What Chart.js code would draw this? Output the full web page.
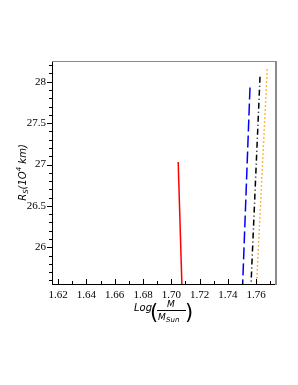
<!DOCTYPE html>
<html>
<head>
<meta charset="utf-8">
<script src="https://cdn.jsdelivr.net/npm/chart.js@4/dist/chart.umd.min.js"></script>
<style>
  html, body { margin: 0; padding: 0; background: #fff; }
  #wrap { width: 298px; height: 385px; }
</style>
</head>
<body>
<div id="wrap"><canvas id="myChart" width="298" height="385"></canvas></div>
<script>
// values: [log M, R_S] pairs, top end and below-axis end
const redX = [1.7049, 1.7076];
const redY = [27.03, 25.50];
const blueX = [1.7557, 1.7504];
const blueY = [27.93, 25.50];
const blackX = [1.7628, 1.7563];
const blackY = [28.06, 25.50];
const orangeX = [1.7679, 1.7602];
const orangeY = [28.15, 25.50];

const xMajor = [1.62, 1.64, 1.66, 1.68, 1.70, 1.72, 1.74, 1.76];
const yMajor = [26, 26.5, 27, 27.5, 28];

function pts(xs, ys) {
  return xs.map((x, i) => ({ x: x, y: ys[i] }));
}

// draws ticks, frame and the two axis titles
const decor = {
  id: 'decor',
  afterDraw(chart) {
    const c = chart.ctx, a = chart.chartArea;
    const sx = chart.scales.x, sy = chart.scales.y;
    c.save();
    c.strokeStyle = '#000';
    c.lineWidth = 1;
    c.beginPath();
    for (let v = 25.6; v <= 28.21; v += 0.1) {
      const y = Math.round(sy.getPixelForValue(v)) + 0.5;
      const major = Math.abs(v * 2 - Math.round(v * 2)) < 0.01;
      c.moveTo(a.left, y);
      c.lineTo(a.left - (major ? 5 : 3), y);
    }
    for (let v = 1.62; v <= 1.771; v += 0.01) {
      const x = Math.round(sx.getPixelForValue(v)) + 0.5;
      const major = Math.round(v * 100) % 2 === 0;
      c.moveTo(x, a.bottom);
      c.lineTo(x, a.bottom - (major ? 5 : 3));
    }
    c.stroke();

    // grey frame at top and right
    c.strokeStyle = '#8a8a8a';
    c.lineWidth = 1;
    c.beginPath();
    c.moveTo(a.left, a.top + 0.5);
    c.lineTo(a.right, a.top + 0.5);
    c.stroke();
    c.lineWidth = 2;
    c.beginPath();
    c.moveTo(a.right + 1, a.top);
    c.lineTo(a.right + 1, a.bottom + 1);
    c.stroke();

    // y title: R_S(10^4 km)
    c.fillStyle = '#000';
    c.translate(23, (a.top + a.bottom) / 2);
    c.rotate(-Math.PI / 2);
    const big = 'italic 10px "DejaVu Sans"';
    const small = 'italic 7px "DejaVu Sans"';
    const runs = [
      ['R', big, 0], ['S', small, 3], ['(1O', big, 0], ['4', small, -4], [' km)', big, 0]
    ];
    let w = 0;
    runs.forEach(r => { c.font = r[1]; w += c.measureText(r[0]).width; });
    let px = -w / 2;
    c.textBaseline = 'middle';
    c.textAlign = 'left';
    runs.forEach(r => {
      c.font = r[1];
      c.fillText(r[0], px, r[2]);
      px += c.measureText(r[0]).width;
    });
    c.setTransform(1, 0, 0, 1, 0, 0);

    // x title: Log( M / M_Sun )
    c.textBaseline = 'alphabetic';
    c.font = 'italic 10px "DejaVu Sans"';
    c.fillText('Log', 134, 311);
    c.font = '21px "DejaVu Sans"';
    c.fillText('(', 150, 319);
    c.fillText(')', 185, 319);
    c.font = 'italic 9px "DejaVu Sans"';
    c.textAlign = 'center';
    c.fillText('M', 171, 307);
    c.lineWidth = 1;
    c.strokeStyle = '#000';
    c.beginPath();
    c.moveTo(157, 310.5);
    c.lineTo(186, 310.5);
    c.stroke();
    c.textAlign = 'left';
    c.fillText('M', 158, 320);
    c.font = 'italic 7px "DejaVu Sans"';
    c.fillText('Sun', 166, 322);
    c.restore();
  }
};

const ctx = document.getElementById('myChart');
new Chart(ctx, {
  type: 'line',
  data: {
    datasets: [
      { data: pts(redX, redY), borderColor: '#ff0000', borderWidth: 1.5, pointRadius: 0 },
      { data: pts(blueX, blueY), borderColor: '#0000ff', borderWidth: 1.5, borderDash: [12, 4], pointRadius: 0 },
      { data: pts(blackX, blackY), borderColor: '#000000', borderWidth: 1.5, borderDash: [6, 3, 1, 3], pointRadius: 0 },
      { data: pts(orangeX, orangeY), borderColor: '#ffa500', borderWidth: 1.5, borderDash: [1.5, 2.5], pointRadius: 0 }
    ]
  },
  options: {
    responsive: false,
    animation: false,
    layout: { padding: { left: 0, top: 61, right: 23, bottom: 0 } },
    plugins: { legend: { display: false }, tooltip: { enabled: false } },
    scales: {
      x: {
        type: 'linear',
        min: 1.6156,
        max: 1.7734,
        afterFit: s => { s.height = 101; },
        afterBuildTicks: s => { s.ticks = xMajor.map(v => ({ value: v })); },
        grid: { display: false, drawTicks: false, tickLength: 0 },
        border: { display: true, color: '#000', width: 1 },
        ticks: {
          padding: 5,
          color: '#000',
          maxRotation: 0,
          font: { family: '"Liberation Serif"', size: 11 },
          callback: v => v.toFixed(2)
        }
      },
      y: {
        type: 'linear',
        min: 25.557,
        max: 28.25,
        afterFit: s => { s.width = 52; },
        afterBuildTicks: s => { s.ticks = yMajor.map(v => ({ value: v })); },
        grid: { display: false, drawTicks: false, tickLength: 0 },
        border: { display: true, color: '#000', width: 1 },
        ticks: {
          padding: 6,
          color: '#000',
          font: { family: '"Liberation Serif"', size: 11 },
          callback: v => String(v)
        }
      }
    }
  },
  plugins: [decor]
});
</script>
</body>
</html>
